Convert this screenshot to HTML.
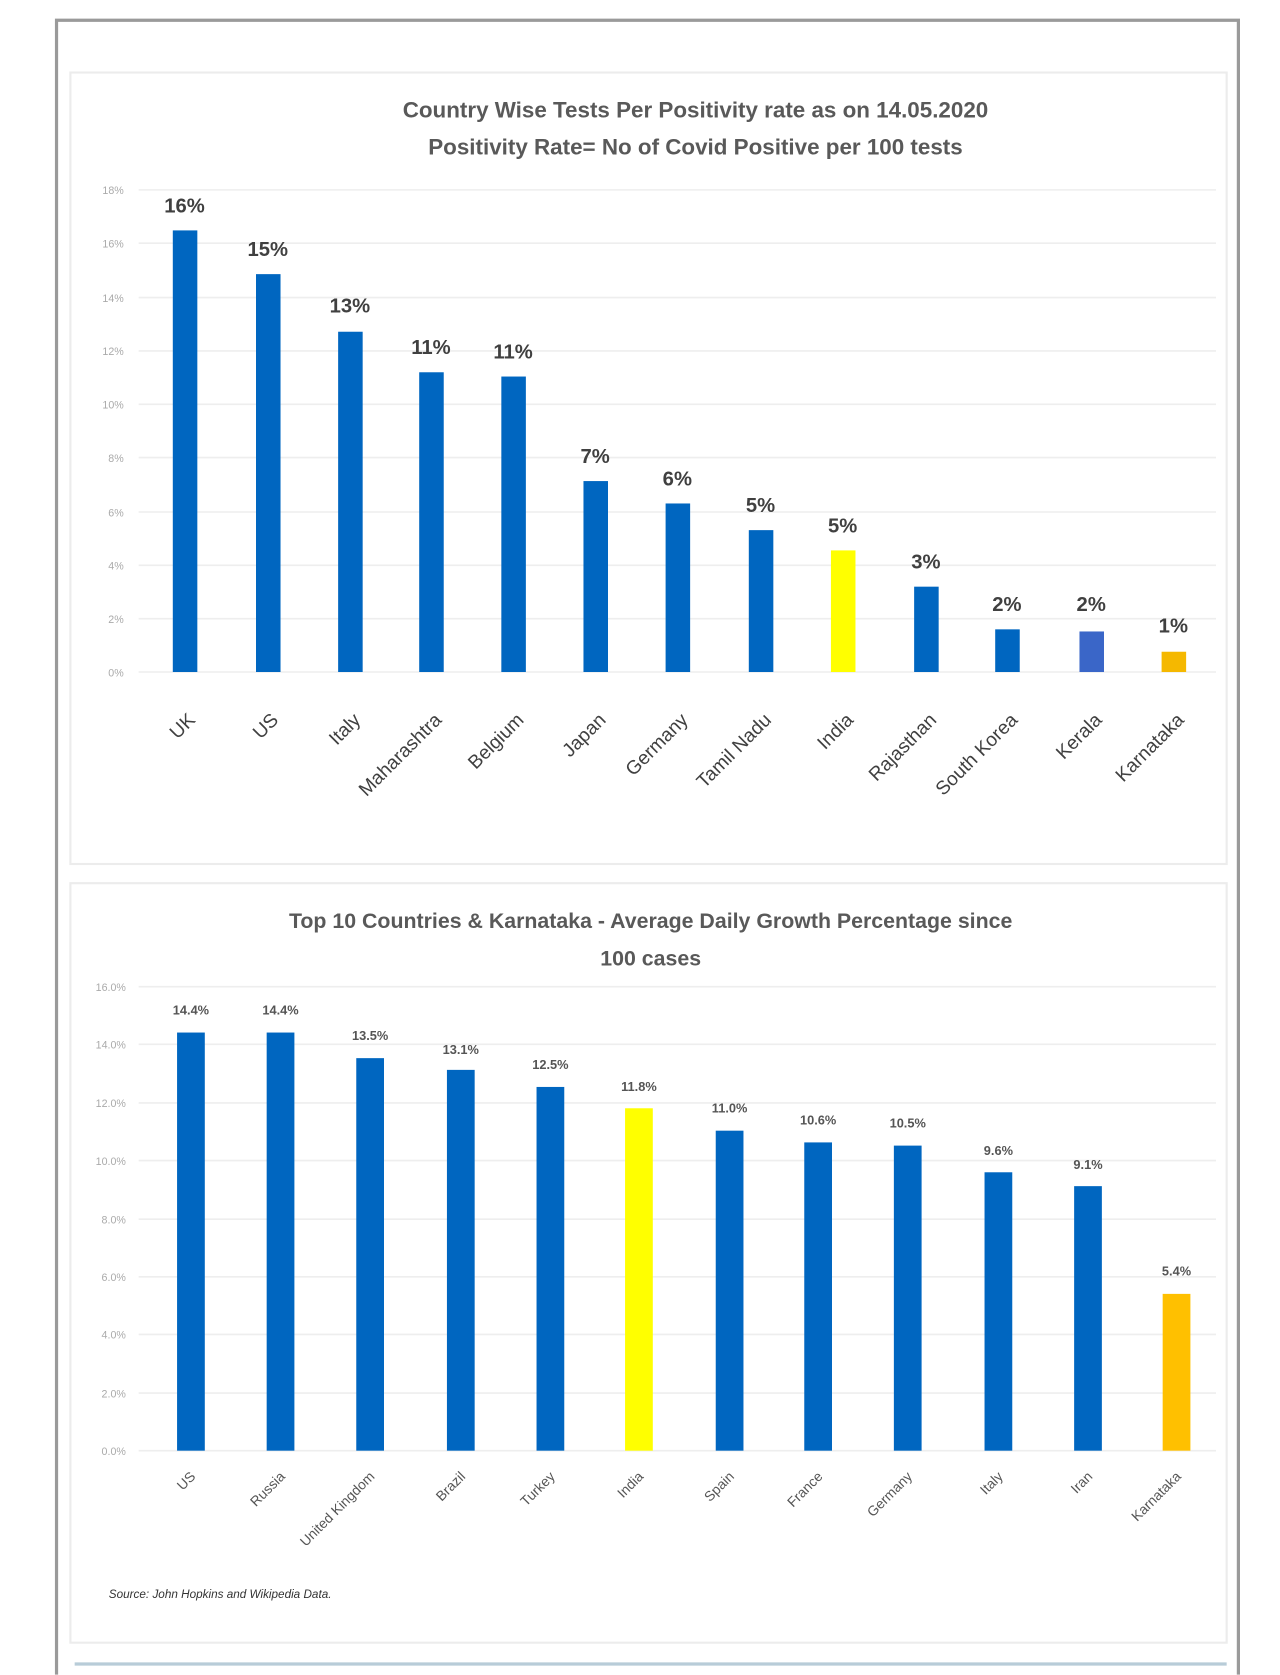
<!DOCTYPE html>
<html><head><meta charset="utf-8"><style>
html,body{margin:0;padding:0;background:#fff;}
svg{display:block;}
text{font-family:"Liberation Sans",sans-serif;}
</style></head><body>
<svg width="1280" height="1675" viewBox="0 0 1200 1570.3" preserveAspectRatio="none" xmlns="http://www.w3.org/2000/svg">
<rect x="0" y="0" width="1200" height="1571" fill="#fff"/>
<path d="M53 1570 V19 H1161 V1570" fill="none" stroke="#9a9a9a" stroke-width="3"/>
<rect x="66" y="68" width="1084" height="742" fill="#fff" stroke="#ececec" stroke-width="2"/>
<rect x="66" y="828" width="1084" height="712" fill="#fff" stroke="#ececec" stroke-width="2"/>
<line x1="70" y1="1560" x2="1150" y2="1560" stroke="#b8ccd8" stroke-width="3"/>

<text x="652" y="110" text-anchor="middle" font-size="21" font-weight="bold" fill="#595959">Country Wise Tests Per Positivity rate as on 14.05.2020</text>
<text x="652" y="145" text-anchor="middle" font-size="21" font-weight="bold" fill="#595959">Positivity Rate= No of Covid Positive per 100 tests</text>
<g stroke="#eeeeee" stroke-width="1.5">
<line x1="130" y1="178" x2="1140" y2="178"/><line x1="130" y1="228" x2="1140" y2="228"/><line x1="130" y1="279" x2="1140" y2="279"/><line x1="130" y1="329" x2="1140" y2="329"/><line x1="130" y1="379" x2="1140" y2="379"/><line x1="130" y1="429" x2="1140" y2="429"/><line x1="130" y1="480" x2="1140" y2="480"/><line x1="130" y1="530" x2="1140" y2="530"/><line x1="130" y1="580" x2="1140" y2="580"/><line x1="130" y1="630" x2="1140" y2="630"/>
</g>
<g font-size="10" fill="#aaa" text-anchor="end">
<text x="116" y="182">18%</text><text x="116" y="232">16%</text><text x="116" y="283">14%</text><text x="116" y="333">12%</text><text x="116" y="383">10%</text><text x="116" y="433">8%</text><text x="116" y="484">6%</text><text x="116" y="534">4%</text><text x="116" y="584">2%</text><text x="116" y="634">0%</text>
</g>
<g>
<rect x="162" y="216" width="23" height="414" fill="#0066c0"/>
<rect x="240" y="257" width="23" height="373" fill="#0066c0"/>
<rect x="317" y="311" width="23" height="319" fill="#0066c0"/>
<rect x="393" y="349" width="23" height="281" fill="#0066c0"/>
<rect x="470" y="353" width="23" height="277" fill="#0066c0"/>
<rect x="547" y="451" width="23" height="179" fill="#0066c0"/>
<rect x="624" y="472" width="23" height="158" fill="#0066c0"/>
<rect x="702" y="497" width="23" height="133" fill="#0066c0"/>
<rect x="779" y="516" width="23" height="114" fill="#ffff00"/>
<rect x="857" y="550" width="23" height="80" fill="#0066c0"/>
<rect x="933" y="590" width="23" height="40" fill="#0066c0"/>
<rect x="1012" y="592" width="23" height="38" fill="#3a66c8"/>
<rect x="1089" y="611" width="23" height="19" fill="#f5b800"/>
</g>
<g font-size="19" font-weight="bold" fill="#404040" text-anchor="middle">
<text x="173" y="199">16%</text><text x="251" y="240">15%</text><text x="328" y="293">13%</text><text x="404" y="332">11%</text><text x="481" y="336">11%</text><text x="558" y="434">7%</text><text x="635" y="455">6%</text><text x="713" y="480">5%</text><text x="790" y="499">5%</text><text x="868" y="533">3%</text><text x="944" y="573">2%</text><text x="1023" y="573">2%</text><text x="1100" y="593">1%</text>
</g>
<g font-size="18" fill="#404040" text-anchor="end">
<text transform="translate(184,676) rotate(-45)">UK</text>
<text transform="translate(262,676) rotate(-45)">US</text>
<text transform="translate(339,676) rotate(-45)">Italy</text>
<text transform="translate(415,676) rotate(-45)">Maharashtra</text>
<text transform="translate(492,676) rotate(-45)">Belgium</text>
<text transform="translate(569,676) rotate(-45)">Japan</text>
<text transform="translate(646,676) rotate(-45)">Germany</text>
<text transform="translate(724,676) rotate(-45)">Tamil Nadu</text>
<text transform="translate(801,676) rotate(-45)">India</text>
<text transform="translate(879,676) rotate(-45)">Rajasthan</text>
<text transform="translate(955,676) rotate(-45)">South Korea</text>
<text transform="translate(1034,676) rotate(-45)">Kerala</text>
<text transform="translate(1111,676) rotate(-45)">Karnataka</text>
</g>

<text x="610" y="870" text-anchor="middle" font-size="20" font-weight="bold" fill="#595959">Top 10 Countries &amp; Karnataka - Average Daily Growth Percentage since</text>
<text x="610" y="905" text-anchor="middle" font-size="20" font-weight="bold" fill="#595959">100 cases</text>
<g stroke="#eeeeee" stroke-width="1.5">
<line x1="130" y1="925" x2="1140" y2="925"/><line x1="130" y1="979" x2="1140" y2="979"/><line x1="130" y1="1034" x2="1140" y2="1034"/><line x1="130" y1="1088" x2="1140" y2="1088"/><line x1="130" y1="1143" x2="1140" y2="1143"/><line x1="130" y1="1197" x2="1140" y2="1197"/><line x1="130" y1="1251" x2="1140" y2="1251"/><line x1="130" y1="1306" x2="1140" y2="1306"/><line x1="130" y1="1360" x2="1140" y2="1360"/>
</g>
<g font-size="10" fill="#aaa" text-anchor="end">
<text x="118" y="929">16.0%</text><text x="118" y="983">14.0%</text><text x="118" y="1038">12.0%</text><text x="118" y="1092">10.0%</text><text x="118" y="1147">8.0%</text><text x="118" y="1201">6.0%</text><text x="118" y="1255">4.0%</text><text x="118" y="1310">2.0%</text><text x="118" y="1364">0.0%</text>
</g>
<g>
<rect x="166" y="968" width="26" height="392" fill="#0066c0"/>
<rect x="250" y="968" width="26" height="392" fill="#0066c0"/>
<rect x="334" y="992" width="26" height="368" fill="#0066c0"/>
<rect x="419" y="1003" width="26" height="357" fill="#0066c0"/>
<rect x="503" y="1019" width="26" height="341" fill="#0066c0"/>
<rect x="586" y="1039" width="26" height="321" fill="#ffff00"/>
<rect x="671" y="1060" width="26" height="300" fill="#0066c0"/>
<rect x="754" y="1071" width="26" height="289" fill="#0066c0"/>
<rect x="838" y="1074" width="26" height="286" fill="#0066c0"/>
<rect x="923" y="1099" width="26" height="261" fill="#0066c0"/>
<rect x="1007" y="1112" width="26" height="248" fill="#0066c0"/>
<rect x="1090" y="1213" width="26" height="147" fill="#ffc000"/>
</g>
<g font-size="12" font-weight="bold" fill="#555" text-anchor="middle">
<text x="179" y="951">14.4%</text><text x="263" y="951">14.4%</text><text x="347" y="975">13.5%</text><text x="432" y="988">13.1%</text><text x="516" y="1002">12.5%</text><text x="599" y="1023">11.8%</text><text x="684" y="1043">11.0%</text><text x="767" y="1054">10.6%</text><text x="851" y="1057">10.5%</text><text x="936" y="1083">9.6%</text><text x="1020" y="1096">9.1%</text><text x="1103" y="1196">5.4%</text>
</g>
<g font-size="13" fill="#555" text-anchor="end">
<text transform="translate(184,1385) rotate(-45)">US</text>
<text transform="translate(268,1385) rotate(-45)">Russia</text>
<text transform="translate(352,1385) rotate(-45)">United Kingdom</text>
<text transform="translate(437,1385) rotate(-45)">Brazil</text>
<text transform="translate(521,1385) rotate(-45)">Turkey</text>
<text transform="translate(604,1385) rotate(-45)">India</text>
<text transform="translate(689,1385) rotate(-45)">Spain</text>
<text transform="translate(772,1385) rotate(-45)">France</text>
<text transform="translate(856,1385) rotate(-45)">Germany</text>
<text transform="translate(941,1385) rotate(-45)">Italy</text>
<text transform="translate(1025,1385) rotate(-45)">Iran</text>
<text transform="translate(1108,1385) rotate(-45)">Karnataka</text>
</g>
<text x="102" y="1498" font-size="11" font-style="italic" fill="#333">Source: John Hopkins and Wikipedia Data.</text>
</svg>
</body></html>
